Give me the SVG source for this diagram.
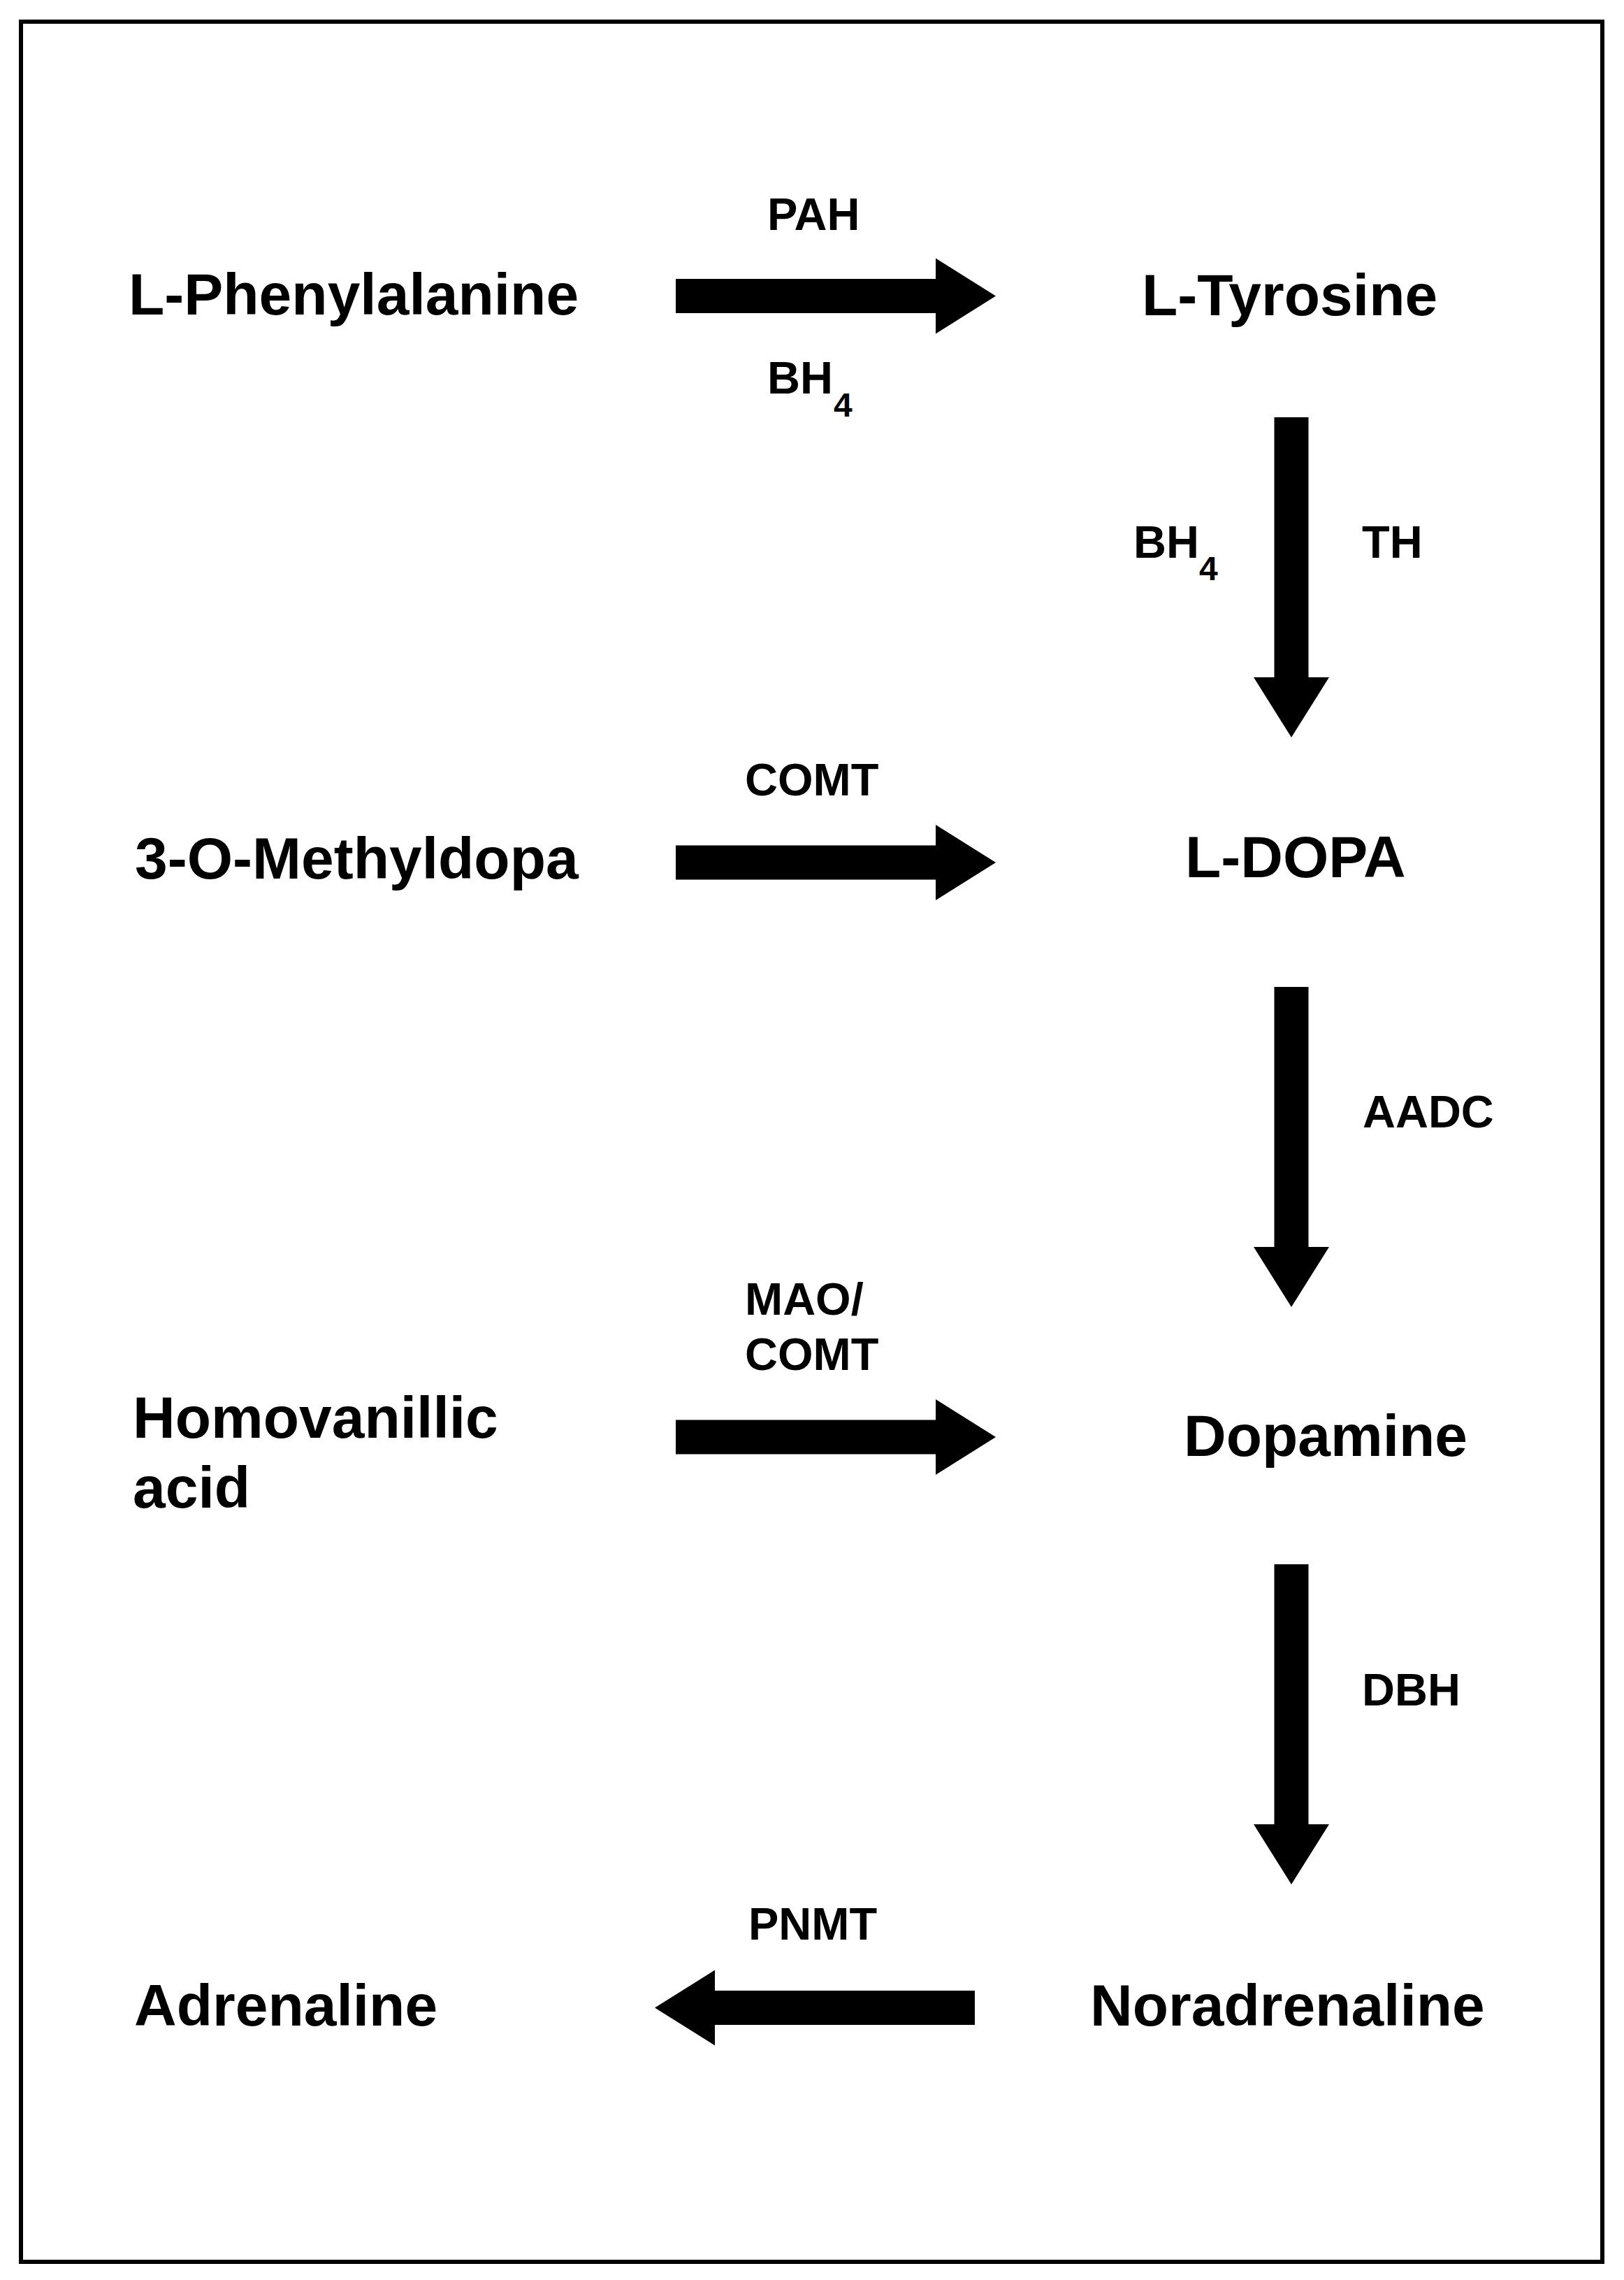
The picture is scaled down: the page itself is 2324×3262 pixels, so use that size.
<svg xmlns="http://www.w3.org/2000/svg" xmlns:xlink="http://www.w3.org/1999/xlink" width="2324" height="3262" viewBox="0 0 2324 3262">
  <style>
    .node { font-family: "Liberation Sans", Arial, sans-serif; font-weight: bold; font-size: 84px; fill: #000; }
    .enz { font-family: "Liberation Sans", Arial, sans-serif; font-weight: bold; font-size: 65px; fill: #000; }
    .sub { font-size: 48px; }
    .arrow { fill: #000; }
  </style>
  <defs>
    <path id="blockArrow" d="M0,-24.5 H372 V-54 L458,0 L372,54 V24.5 H0 Z"/>
  </defs>
  <rect x="0" y="0" width="2324" height="3262" fill="#fff"/>
  <rect id="frame" x="30" y="31" width="2263" height="3205" fill="none" stroke="#000" stroke-width="6"/>

  <g id="connectors" class="arrow">
    <use id="arrow-phe-tyr" xlink:href="#blockArrow" href="#blockArrow" transform="translate(967,423.5)"/>
    <use id="arrow-tyr-dopa" xlink:href="#blockArrow" href="#blockArrow" transform="translate(1848,597) rotate(90)"/>
    <use id="arrow-omd-dopa" xlink:href="#blockArrow" href="#blockArrow" transform="translate(967,1234)"/>
    <use id="arrow-dopa-dopamine" xlink:href="#blockArrow" href="#blockArrow" transform="translate(1848,1412) rotate(90)"/>
    <use id="arrow-hva-dopamine" xlink:href="#blockArrow" href="#blockArrow" transform="translate(967,2056)"/>
    <use id="arrow-dopamine-nor" xlink:href="#blockArrow" href="#blockArrow" transform="translate(1848,2238) rotate(90)"/>
    <use id="arrow-nor-adr" xlink:href="#blockArrow" href="#blockArrow" transform="translate(1395,2872.5) rotate(180)"/>
  </g>

  <g id="enzyme-labels">
    <text id="lbl-pah" class="enz" x="1098" y="329">PAH</text>
    <text id="lbl-bh4-1" class="enz" x="1098" y="563">BH<tspan class="sub" x="1193" y="596">4</tspan></text>
    <text id="lbl-bh4-2" class="enz" x="1622" y="798">BH<tspan class="sub" x="1716" y="830">4</tspan></text>
    <text id="lbl-th" class="enz" x="1949" y="798">TH</text>
    <text id="lbl-comt" class="enz" x="1066" y="1138">COMT</text>
    <text id="lbl-aadc" class="enz" x="1950" y="1613">AADC</text>
    <text id="lbl-mao-comt" class="enz"><tspan x="1066" y="1881">MAO/</tspan><tspan x="1066" y="1960">COMT</tspan></text>
    <text id="lbl-dbh" class="enz" x="1949" y="2440">DBH</text>
    <text id="lbl-pnmt" class="enz" x="1071" y="2775">PNMT</text>
  </g>

  <g id="node-phenylalanine"><text class="node" x="184" y="450">L-Phenylalanine</text></g>
  <g id="node-tyrosine"><text class="node" x="1634" y="451">L-Tyrosine</text></g>
  <g id="node-methyldopa"><text class="node" x="193" y="1257">3-O-Methyldopa</text></g>
  <g id="node-ldopa"><text class="node" x="1696" y="1255">L-DOPA</text></g>
  <g id="node-hva"><text class="node"><tspan x="190" y="2057">Homovanillic</tspan><tspan x="190" y="2157">acid</tspan></text></g>
  <g id="node-dopamine"><text class="node" x="1694" y="2083">Dopamine</text></g>
  <g id="node-adrenaline"><text class="node" x="192" y="2898">Adrenaline</text></g>
  <g id="node-noradrenaline"><text class="node" x="1560" y="2898">Noradrenaline</text></g>
</svg>
